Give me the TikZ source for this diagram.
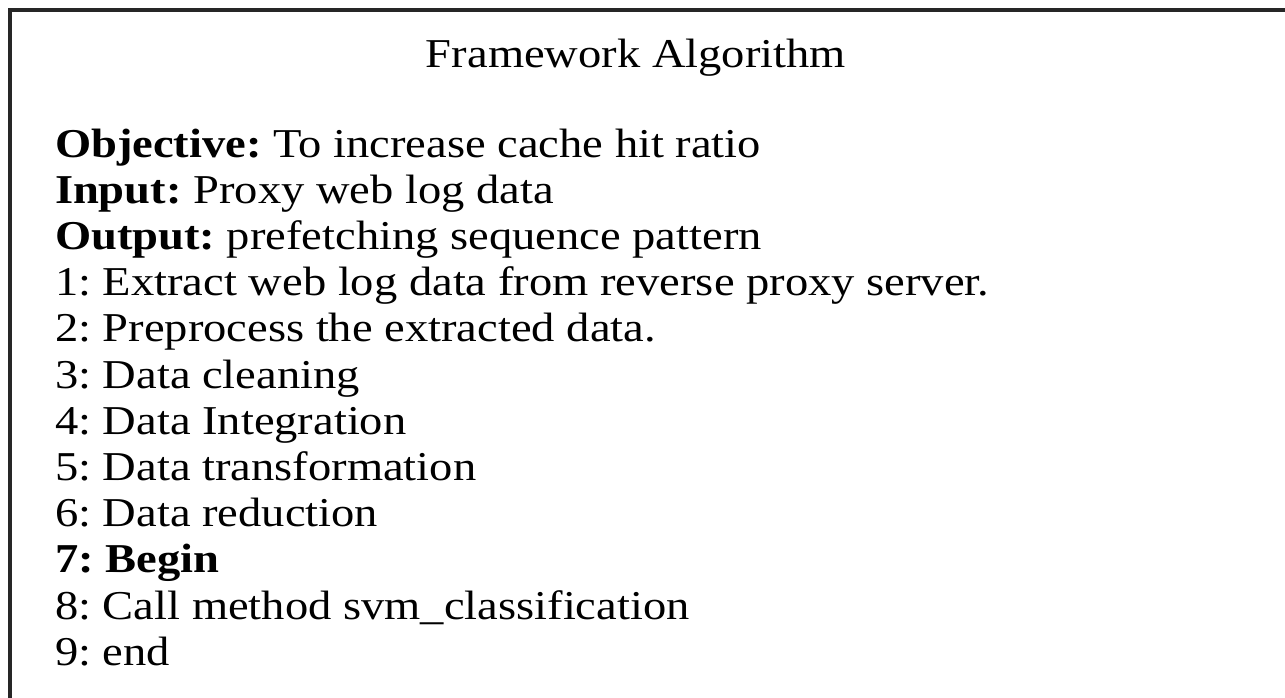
\documentclass[tikz,border=0pt]{standalone}
\usepackage{fontspec}
\setmainfont{Liberation Serif}[FakeStretch=1.135]
\frenchspacing
\begin{document}
\begin{tikzpicture}[x=1pt,y=-1pt,
  every node/.style={inner sep=0pt, outer sep=0pt, font=\fontsize{41}{46}\selectfont},
  algline/.style={anchor=base west}]
\useasboundingbox (0,0) rectangle (1285,697);
\fill[white] (0,0) rectangle (1285,697);
% frame: top and left edges of the box
\draw[line width=3.2pt, black!85] (1290,10) -- (10,10) -- (10,700);
% heading
\node[anchor=base] (title) at (636,67) {Framework Algorithm};
% algorithm lines
\node[algline] (obj) at (55,157.0) {\textbf{Objective:} To increase cache hit ratio};
\node[algline] (inp) at (55,203.2) {\textbf{Input:} Proxy web log data};
\node[algline] (out) at (55,249.4) {\textbf{Output:} prefetching sequence pattern};
\node[algline] (s1) at (55,295.6) {1: Extract web log data from reverse proxy server.};
\node[algline] (s2) at (55,341.8) {2: Preprocess the extracted data.};
\node[algline] (s3) at (55,388.0) {3: Data cleaning};
\node[algline] (s4) at (55,434.2) {4: Data Integration};
\node[algline] (s5) at (55,480.4) {5: Data transformation};
\node[algline] (s6) at (55,526.6) {6: Data reduction};
\node[algline] (s7) at (55,572.8) {\textbf{7: Begin}};
\node[algline] (s8) at (55,619.0) {8: Call method svm\_classification};
\node[algline] (s9) at (55,665.2) {9: end};
\end{tikzpicture}
\end{document}
